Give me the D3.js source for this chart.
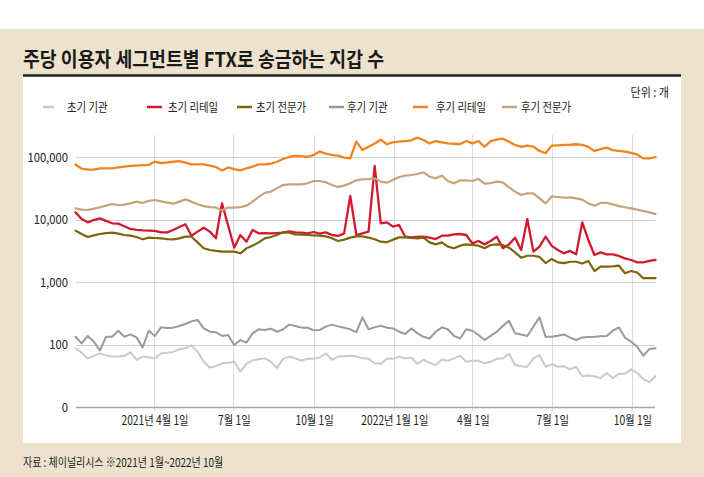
<!DOCTYPE html>
<html><head><meta charset="utf-8">
<script src="https://cdn.jsdelivr.net/npm/d3@7/dist/d3.min.js"></script>
<style>
body{margin:0;background:#fff}
svg{display:block}
text{font-family:"Noto Sans CJK KR","Noto Sans",sans-serif}
</style>
</head><body>
<script>
// ---------- DATA ----------
const startDate = "2021-01-01"; // weekly observations
const seriesNames = ["초기 기관","초기 리테일","초기 전문가","후기 기관","후기 리테일","후기 전문가"];
const earlyInst = [87,74,60,66,72,67,64,64,66,75,57,64,62,60,72,74,76,84,88,97,77,53,43,45,50,51,53,37,49,56,58,60,
  53,42,59,64,60,55,59,59,62,72,57,64,65,66,65,60,59,50,49,59,59,64,60,62,49,57,51,47,57,55,60,66,
  53,55,55,50,53,59,60,71,47,45,44,60,68,44,48,44,45,40,44,31,32,31,29,35,29,34,34,40,35,28,25,31];
const earlyRetail = [13000,10200,9000,9800,10400,9500,8700,8600,7800,7050,6800,6700,6640,6570,6230,6230,6800,7600,8400,5500,6400,7400,6400,5000,18100,8000,3540,5650,4420,6800,6000,6070,
  6000,6070,6150,6470,6230,6150,6000,6310,5930,6230,5650,5450,6000,23800,5650,6000,6380,71800,8700,9000,7680,8170,5310,5180,5250,5310,5120,4870,5510,5510,5790,5860,
  5650,4160,4530,4000,4530,5310,3460,4000,5120,3250,10200,3060,3680,5310,3790,3250,2880,3140,2770,9000,4700,2700,2980,2770,2770,2610,2390,2250,2060,2060,2170,2250];
const earlyExpert = [6630,5860,5250,5580,5860,6070,6150,5930,5650,5510,5250,4820,5120,5060,5000,4870,4820,5000,5310,5310,4310,3460,3250,3140,3060,3060,3060,2880,3460,3810,4310,5000,
  5250,5650,6230,6150,5790,5720,5650,5580,5510,5380,5000,4530,4760,5120,5380,5380,5120,4820,4420,4310,4760,5180,5180,5060,5000,5120,4310,4000,4310,3680,3460,3810,
  4000,3910,3810,3460,3910,4000,3910,3540,2980,2450,2630,2630,2520,2010,2340,2060,2010,2110,2110,1980,2170,1500,1760,1760,1780,1830,1380,1500,1420,1150,1150,1150];
const lateInst = [133,104,137,111,80,133,133,166,133,145,130,90,166,137,188,184,186,198,213,235,247,181,160,157,137,142,98,118,107,151,175,171,
  179,160,175,208,198,186,186,169,171,193,208,195,186,175,158,272,175,188,200,186,181,160,147,181,151,133,125,160,188,175,137,125,
  175,166,142,118,137,160,198,240,151,144,137,193,272,133,133,138,145,129,118,130,132,133,135,137,166,188,129,111,92,66,85,87];
const lateRetail = [76000,65000,63000,63000,66000,66000,66000,68000,70000,72000,73000,74000,75000,84000,80000,82000,84000,86000,81000,76000,76000,76000,73000,69000,61000,68000,64000,61000,66000,70000,76000,76000,
  78000,84000,93000,100000,104000,103000,100000,108000,122000,113000,108000,105000,97500,95000,176000,129000,146000,165000,189000,160000,172000,176000,180000,185000,204000,187000,165000,180000,172000,165000,163000,161000,
  180000,165000,180000,146000,180000,189000,196000,176000,156000,145000,152000,146000,125000,115000,152000,154000,156000,157000,160000,156000,145000,125000,134000,141000,129000,125000,122000,116000,110000,95000,95000,100000];
const lateExpert = [15100,14400,14200,14900,15600,16700,17700,16900,17300,18100,19300,18400,19900,20500,19600,18600,17900,19300,21000,19300,17500,16400,15800,15600,14000,15500,15500,15800,16700,19300,23000,26600,
  27900,31500,35600,36500,36500,36500,37900,41300,41300,39400,35600,33100,34800,37900,42400,44000,44500,45600,40300,38800,42900,47900,50300,51500,53500,56900,48400,45600,50300,41300,37900,42400,
  42400,41300,44500,37400,38300,40300,39400,32700,27900,24700,26200,26200,21800,18100,23500,22900,22300,22600,21800,20800,18100,16600,18400,18400,17500,16400,15700,15100,14400,13700,13000,12200];
const yTickValues = [10,100,1000,10000,100000];
const yTickLabels = ["0","100","1,000","10,000","100,000"];
const xTickDates = ["2021-04-01","2021-07-01","2021-10-01","2022-01-01","2022-04-01","2022-07-01","2022-10-01"];
const xTickLabels = ["2021년 4월 1일","7월 1일","10월 1일","2022년 1월 1일","4월 1일","7월 1일","10월 1일"];
const titleText = "주당 이용자 세그먼트별 FTX로 송금하는 지갑 수";
const unitText = "단위 : 개";
const sourceText = "자료 : 체이널리시스 ※2021년 1월~2022년 10월";

// ---------- STYLE / LAYOUT ----------
const colors = ["#cacaca","#d11a2d","#7d650d","#9a9a9a","#f5821f","#c4a47c"];
const widths = [2, 2.3, 2.2, 2, 2.3, 2.2];
const W = 704, H = 477;
const plot = {left:75.5, right:655.5, y10:407, y1e5:157};
const legendLineX = [43,147,237,329,413,502];
const legendTextX = [67,168,256,347,436,521];

const parse = d3.timeParse("%Y-%m-%d");
const series = [earlyInst, earlyRetail, earlyExpert, lateInst, lateRetail, lateExpert];
const t0 = parse(startDate);
const dates = earlyInst.map((_, i) => d3.timeDay.offset(t0, 7 * i));

const svg = d3.select("body").append("svg").attr("width", W).attr("height", H);
svg.append("rect").attr("width", W).attr("height", H).attr("fill", "#fff");
svg.append("rect").attr("y", 29).attr("width", W).attr("height", H - 29).attr("fill", "#ede2cd");
svg.append("rect").attr("x", 23).attr("y", 76).attr("width", 658).attr("height", 367).attr("fill", "#fff");
svg.append("line").attr("x1", 23).attr("x2", 681).attr("y1", 75.5).attr("y2", 75.5)
  .attr("stroke", "#231f20").attr("stroke-width", 2.5);

function condense(sel, f) {
  sel.each(function () {
    const w = this.getComputedTextLength();
    this.setAttribute("textLength", w * f);
    this.setAttribute("lengthAdjust", "spacingAndGlyphs");
  });
  return sel;
}

svg.append("text").attr("x", 23).attr("y", 67).text(titleText)
  .attr("font-size", 20).attr("font-weight", 700).attr("fill", "#1a1a1a")
  .attr("textLength", 361).attr("lengthAdjust", "spacingAndGlyphs");

condense(svg.append("text").attr("x", 669).attr("y", 97).attr("text-anchor", "end")
  .attr("font-size", 12).attr("fill", "#222").text(unitText), 0.92);

// legend
const lg = svg.append("g");
seriesNames.forEach((name, i) => {
  lg.append("line").attr("x1", legendLineX[i]).attr("x2", legendLineX[i] + (i === 0 ? 11 : 15))
    .attr("y1", 107).attr("y2", 107).attr("stroke", colors[i]).attr("stroke-width", 2.5);
  condense(lg.append("text").attr("x", legendTextX[i]).attr("y", 111.5).attr("font-size", 12.5)
    .attr("fill", "#222").text(name), 0.83);
});

// scales
const x = d3.scaleTime().domain([dates[0], dates[dates.length - 1]]).range([plot.left, plot.right]);
const y = d3.scaleLog().domain([10, 100000]).range([plot.y10, plot.y1e5]);

// vertical grid
const xt = xTickDates.map(parse);
svg.append("g").selectAll("line").data(xt).join("line")
  .attr("x1", d => Math.round(x(d)) + 0.5).attr("x2", d => Math.round(x(d)) + 0.5)
  .attr("y1", 135).attr("y2", 411).attr("stroke", "#dcdcdc").attr("stroke-width", 1);

// horizontal grid
svg.append("g").selectAll("line").data(yTickValues).join("line")
  .attr("x1", 76).attr("x2", 655)
  .attr("y1", d => Math.round(y(d)) + 0.5).attr("y2", d => Math.round(y(d)) + 0.5)
  .attr("stroke", d => d === 10 ? "#a8a8a8" : "#cfcfcf").attr("stroke-width", d => d === 10 ? 1.5 : 1);

// y labels
condense(svg.append("g").selectAll("text").data(yTickValues).join("text")
  .attr("x", 68).attr("y", d => y(d)).attr("dy", "0.36em").attr("text-anchor", "end")
  .attr("font-size", 12.5).attr("fill", "#222").text((d, i) => yTickLabels[i]), 0.9);

// x labels
condense(svg.append("g").selectAll("text").data(xt).join("text")
  .attr("x", d => x(d) + 1).attr("y", 425).attr("text-anchor", "middle")
  .attr("font-size", 12.5).attr("fill", "#222").text((d, i) => xTickLabels[i]), 0.82);

// lines
const line = d3.line().x((d, i) => x(dates[i])).y(d => y(d));
svg.append("g").selectAll("path").data(series).join("path")
  .attr("d", d => line(d)).attr("fill", "none")
  .attr("stroke", (d, i) => colors[i]).attr("stroke-width", (d, i) => widths[i])
  .attr("stroke-linejoin", "round").attr("stroke-linecap", "round");

// source
condense(svg.append("text").attr("x", 23).attr("y", 467).attr("font-size", 12)
  .attr("fill", "#222").text(sourceText), 0.83);
</script>
</body></html>
